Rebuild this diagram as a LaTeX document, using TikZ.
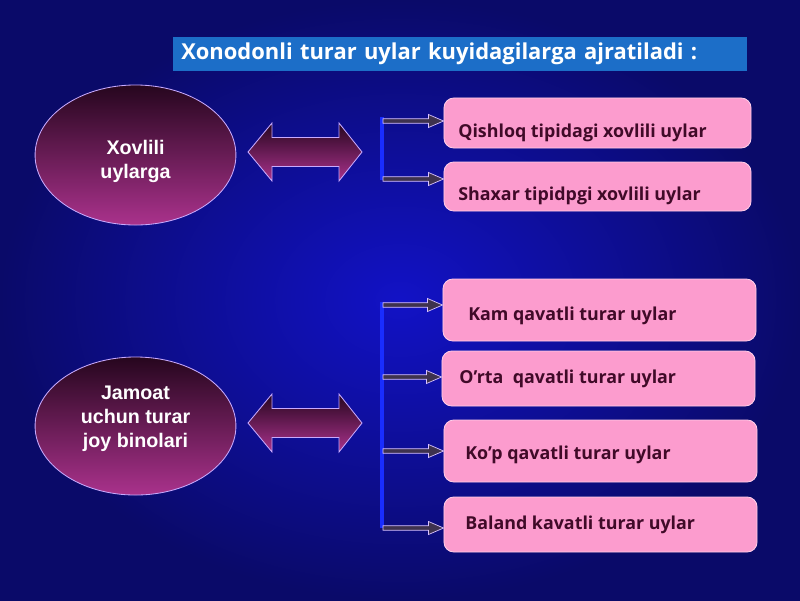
\documentclass[tikz,border=0pt]{standalone}
\usepackage{fontspec}
\setmainfont{Open Sans}
\newfontfamily\ovalfont{Liberation Sans}
\usetikzlibrary{calc,shapes.geometric}

\definecolor{bgin}{RGB}{18,18,198}
\definecolor{bgout}{RGB}{10,10,105}
\definecolor{titleblue}{RGB}{28,110,200}
\definecolor{rimlilac}{RGB}{200,170,255}
\definecolor{plumtop}{RGB}{38,6,30}
\definecolor{plumbot}{RGB}{170,50,140}
\definecolor{boxpink}{RGB}{252,156,206}
\definecolor{boxrim}{RGB}{255,205,232}
\definecolor{boxink}{RGB}{64,10,40}
\definecolor{barblue}{RGB}{25,45,255}
\definecolor{shaftgrey}{RGB}{62,50,78}

\tikzset{
  oval/.style={ellipse,draw=rimlilac,line width=0.6pt,top color=plumtop,bottom color=plumbot,
    minimum width=5.02cm,inner sep=0pt},
  ovaltext/.style={inner sep=0pt,text=white,align=center,
    font=\ovalfont\bfseries\fontsize{14}{17}\selectfont},
  bigarr/.style={draw=rimlilac,line width=0.6pt,top color=plumtop,bottom color=plumbot},
  pinkbox/.style={rectangle,rounded corners=7pt,fill=boxpink,draw=boxrim,line width=0.6pt},
  boxtext/.style={anchor=west,inner sep=0pt,text=boxink,font=\bfseries\fontsize{12.7}{15}\selectfont},
  titlebox/.style={rectangle,fill=titleblue,anchor=north west,minimum width=14.35cm,minimum height=0.85cm,
    inner xsep=0.2cm,text width=13.95cm,align=left,text=white,font=\bfseries\fontsize{15.6}{18}\selectfont},
  smallarr/.style={draw=rimlilac!70!white,line width=0.5pt,fill=shaftgrey},
  bar/.style={draw=barblue,line width=2.5pt}
}

% thin arrow from a point on the bar to a box
\newcommand{\thinarrow}[2]{%
  \filldraw[smallarr] ($(#1)+(0,-2.2)$) -- ($(#2)+(-15,-2.2)$) -- ($(#2)+(-15,-6.5)$) -- (#2)
    -- ($(#2)+(-15,6.5)$) -- ($(#2)+(-15,2.2)$) -- ($(#1)+(0,2.2)$) -- cycle;}
% big double arrow around a centre
\newcommand{\bigdarrow}[1]{%
  \path[bigarr] ($(#1)+(-57,0)$) -- ($(#1)+(-33,-29)$) -- ($(#1)+(-33,-14.5)$) -- ($(#1)+(34,-14.5)$)
    -- ($(#1)+(34,-29)$) -- ($(#1)+(57,0)$) -- ($(#1)+(34,29)$) -- ($(#1)+(34,14.5)$)
    -- ($(#1)+(-33,14.5)$) -- ($(#1)+(-33,29)$) -- cycle;}

\begin{document}
\begin{tikzpicture}[x=0.025cm,y=-0.025cm]
\useasboundingbox (0,0) rectangle (800,600);
\shade[inner color=bgin,outer color=bgout] (0,0) rectangle (800,600);

\node[titlebox] (title) at (173,37) {Xonodonli turar uylar kuyidagilarga ajratiladi :};

\node[oval,minimum height=3.5cm] (xovlili) at (135.5,155) {};
\node[oval,minimum height=3.45cm] (jamoat) at (135.5,426) {};
\node[ovaltext] (xovlilitext) at (135.5,161) {Xovlili\\uylarga};
\node[ovaltext] (jamoattext) at (135.5,419) {Jamoat\\uchun turar\\joy binolari};

\coordinate (arrA) at (305,152);
\coordinate (arrB) at (305,423);
\bigdarrow{arrA}
\bigdarrow{arrB}

\node[pinkbox,minimum width=7.675cm,minimum height=1.25cm] (b1) at (597.5,123) {};
\node[pinkbox,minimum width=7.675cm,minimum height=1.225cm] (b2) at (597.5,186.5) {};
\node[pinkbox,minimum width=7.825cm,minimum height=1.55cm] (b3) at (599.5,310) {};
\node[pinkbox,minimum width=7.825cm,minimum height=1.375cm] (b4) at (598.5,378.5) {};
\node[pinkbox,minimum width=7.825cm,minimum height=1.55cm] (b5) at (600.5,451) {};
\node[pinkbox,minimum width=7.825cm,minimum height=1.375cm] (b6) at (600.5,524.5) {};

\node[boxtext] (t1) at (458,133) {Qishloq tipidagi xovlili uylar};
\node[boxtext] (t2) at (458,196) {Shaxar tipidpgi xovlili uylar};
\node[boxtext] (t3) at (468,316) {Kam qavatli turar uylar};
\node[boxtext] (t4) at (459,379) {O’rta\ \ qavatli turar uylar};
\node[boxtext] (t5) at (465,455) {Ko’p qavatli turar uylar};
\node[boxtext] (t6) at (465,525) {Baland kavatli turar uylar};

\coordinate (barAtop) at (382,117);
\coordinate (barAbot) at (382,180);
\coordinate (barBtop) at (382,302);
\coordinate (barBbot) at (382,528);
\draw[bar] (barAtop)--(barAbot);
\draw[bar] (barBtop)--(barBbot);

\foreach \n/\y in {1/121,2/179,3/305,4/377,5/451,6/528}{
  \coordinate (s\n) at (383,\y);
  \coordinate (e\n) at (s\n -| b\n.west);
  \thinarrow{s\n}{e\n}
}
\end{tikzpicture}
\end{document}
